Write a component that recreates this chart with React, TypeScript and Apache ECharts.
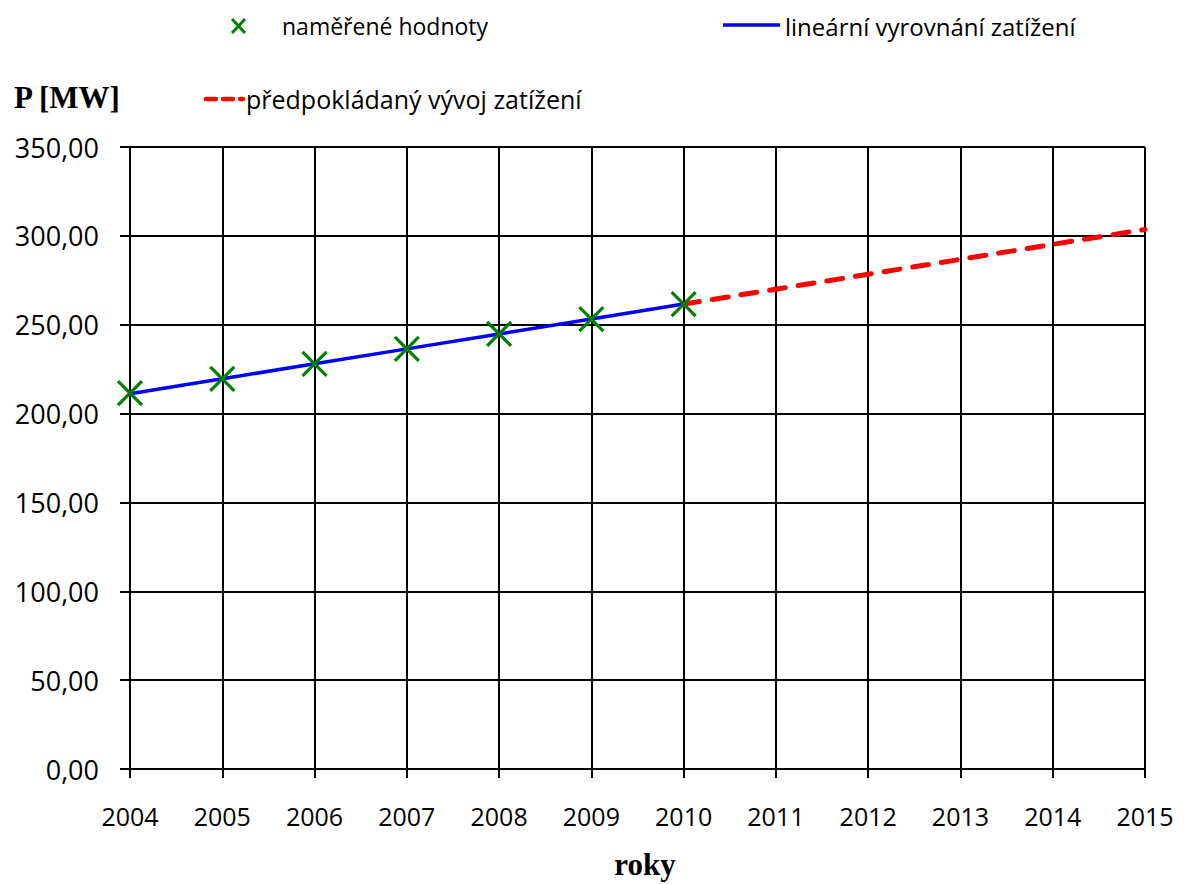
import React, { useEffect, useRef } from "react";
import * as echarts from "echarts";

const years = [2004, 2005, 2006, 2007, 2008, 2009, 2010, 2011, 2012, 2013, 2014, 2015];
const measuredYears = [2004, 2005, 2006, 2007, 2008, 2009, 2010];
const measured = [211.5, 219.5, 228.0, 236.4, 244.8, 253.2, 261.6];
const trend = [211.2, 219.6, 228.0, 236.4, 244.8, 253.2, 261.6];
const forecastYears = [2010, 2011, 2012, 2013, 2014, 2015];
const forecast = [261.6, 270.0, 278.4, 286.8, 295.2, 303.6];
const yTicks = [0, 50, 100, 150, 200, 250, 300, 350];
const legendLabels = ["naměřené hodnoty", "lineární vyrovnání zatížení", "předpokládaný vývoj zatížení"];

const SANS = "'Open Sans', 'DejaVu Sans', sans-serif";
const SERIF = "'Liberation Serif', 'DejaVu Serif', serif";

export default function App() {
  const ref = useRef<HTMLDivElement>(null);
  useEffect(() => {
    if (!ref.current) return;
    const chart = echarts.init(ref.current, undefined, { renderer: "svg" });
    const zip = (xs: number[], ys: number[]) => xs.map((x, i) => [x, ys[i]]);
    chart.setOption({
      animation: false,
      backgroundColor: "#fff",
      grid: { left: 130, right: 41, top: 147, bottom: 115, containLabel: false },
      xAxis: {
        type: "value",
        min: years[0],
        max: years[years.length - 1],
        interval: 1,
        axisLine: { show: true, onZero: false, lineStyle: { color: "#000", width: 2 } },
        axisTick: { show: true, length: 9, lineStyle: { color: "#000", width: 2 } },
        splitLine: { show: true, lineStyle: { color: "#000", width: 2 } },
        axisLabel: {
          margin: 34,
          color: "#000",
          fontFamily: SANS,
          fontSize: 25,
          formatter: (v: number) => String(v),
        },
      },
      yAxis: {
        type: "value",
        min: yTicks[0],
        max: yTicks[yTicks.length - 1],
        interval: 50,
        axisLine: { show: true, lineStyle: { color: "#000", width: 2 } },
        axisTick: { show: true, length: 10, lineStyle: { color: "#000", width: 2 } },
        splitLine: { show: true, lineStyle: { color: "#000", width: 2 } },
        axisLabel: {
          margin: 31,
          color: "#000",
          fontFamily: SANS,
          fontSize: 27,
          formatter: (v: number) => v.toFixed(2).replace(".", ","),
        },
      },
      series: [
        {
          name: legendLabels[2],
          type: "line",
          data: zip(forecastYears, forecast),
          showSymbol: false,
          symbol: "none",
          lineStyle: { color: "#ff0000", width: 5, type: [16, 13], cap: "round" },
          z: 2,
        },
        {
          name: legendLabels[1],
          type: "line",
          data: zip(measuredYears, trend),
          showSymbol: false,
          symbol: "none",
          lineStyle: { color: "#0000ff", width: 3.5 },
          z: 3,
        },
        {
          name: legendLabels[0],
          type: "scatter",
          data: zip(measuredYears, measured),
          symbol: "path://M0 0L10 10M10 0L0 10",
          symbolSize: 24,
          itemStyle: { color: "transparent", borderColor: "#008000", borderWidth: 3.2, opacity: 1 },
          z: 4,
        },
      ],
      graphic: [
        { type: "line", shape: { x1: 232, y1: 19, x2: 245, y2: 33 }, style: { stroke: "#008000", lineWidth: 3 } },
        { type: "line", shape: { x1: 245, y1: 19, x2: 232, y2: 33 }, style: { stroke: "#008000", lineWidth: 3 } },
        {
          type: "text", x: 282, y: 26,
          style: { text: legendLabels[0], font: `23px ${SANS}`, fill: "#000", textVerticalAlign: "middle" },
        },
        { type: "line", shape: { x1: 723, y1: 25, x2: 780, y2: 25 }, style: { stroke: "#0000ff", lineWidth: 3.5 } },
        {
          type: "text", x: 785, y: 26,
          style: { text: legendLabels[1], font: `24px ${SANS}`, fill: "#000", textVerticalAlign: "middle" },
        },
        {
          type: "line", shape: { x1: 206, y1: 99, x2: 243, y2: 99 },
          style: { stroke: "#ff0000", lineWidth: 4.5, lineDash: [10, 7], lineCap: "round" },
        },
        {
          type: "text", x: 246, y: 99,
          style: { text: legendLabels[2], font: `25px ${SANS}`, fill: "#000", textVerticalAlign: "middle" },
        },
        {
          type: "text", x: 14, y: 97,
          style: { text: "P [MW]", font: `bold 31px ${SERIF}`, fill: "#000", textVerticalAlign: "middle" },
        },
        {
          type: "text", x: 645, y: 864,
          style: { text: "roky", font: `bold 31px ${SERIF}`, fill: "#000", textAlign: "center", textVerticalAlign: "middle" },
        },
      ],
    });
    return () => chart.dispose();
  }, []);
  return <div ref={ref} style={{ position: "absolute", left: 0, top: 0, width: 1186, height: 884 }} />;
}
